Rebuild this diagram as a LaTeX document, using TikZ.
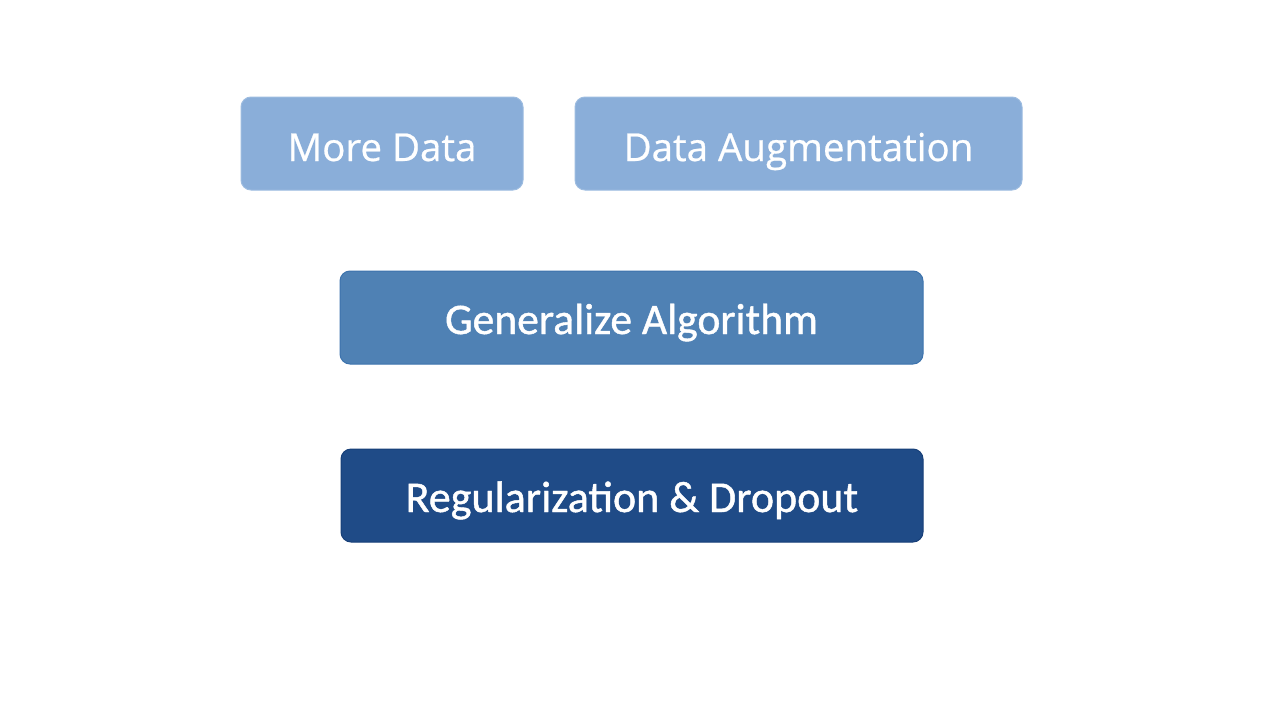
\documentclass[tikz,border=0pt]{standalone}
\usepackage{fontspec}
\setmainfont{Carlito}
\newfontfamily\topfont{Open Sans}
\definecolor{lightb}{HTML}{8AAED9}
\definecolor{lightbd}{HTML}{9DBCE0}
\definecolor{midb}{HTML}{4F81B4}
\definecolor{midbd}{HTML}{3D73AD}
\definecolor{darkb}{HTML}{1F4B87}
\definecolor{darkbd}{HTML}{173F78}
\begin{document}
\begin{tikzpicture}[x=1pt,y=-1pt,
  box/.style={rounded corners=10pt,line width=1pt},
  lbl/.style={text=white,inner sep=0pt,anchor=base}]
\useasboundingbox[fill=white] (0,0) rectangle (1268,712);
\draw[box,fill=lightb,draw=lightbd] (241,97) rectangle (523,190);
\node[lbl,font=\topfont\fontsize{38.5}{44}\selectfont\addfontfeatures{FakeBold=0.6}] (more) at (382,161) {More Data};
\draw[box,fill=lightb,draw=lightbd] (575,97) rectangle (1022,190);
\node[lbl,font=\topfont\fontsize{38.5}{44}\selectfont\addfontfeatures{FakeBold=0.6}] (aug) at (798.5,161) {Data Augmentation};
\draw[box,fill=midb,draw=midbd] (340,271) rectangle (923,364);
\node[lbl,font=\fontsize{43.6}{50}\selectfont\addfontfeatures{FakeBold=1}] (gen) at (631.5,334) {Generalize Algorithm};
\draw[box,fill=darkb,draw=darkbd] (341,449) rectangle (923,542);
\node[lbl,font=\fontsize{44}{50}\selectfont\addfontfeatures{FakeBold=1}] (reg) at (632,512) {Regularization \& Dropout};
\end{tikzpicture}
\end{document}
